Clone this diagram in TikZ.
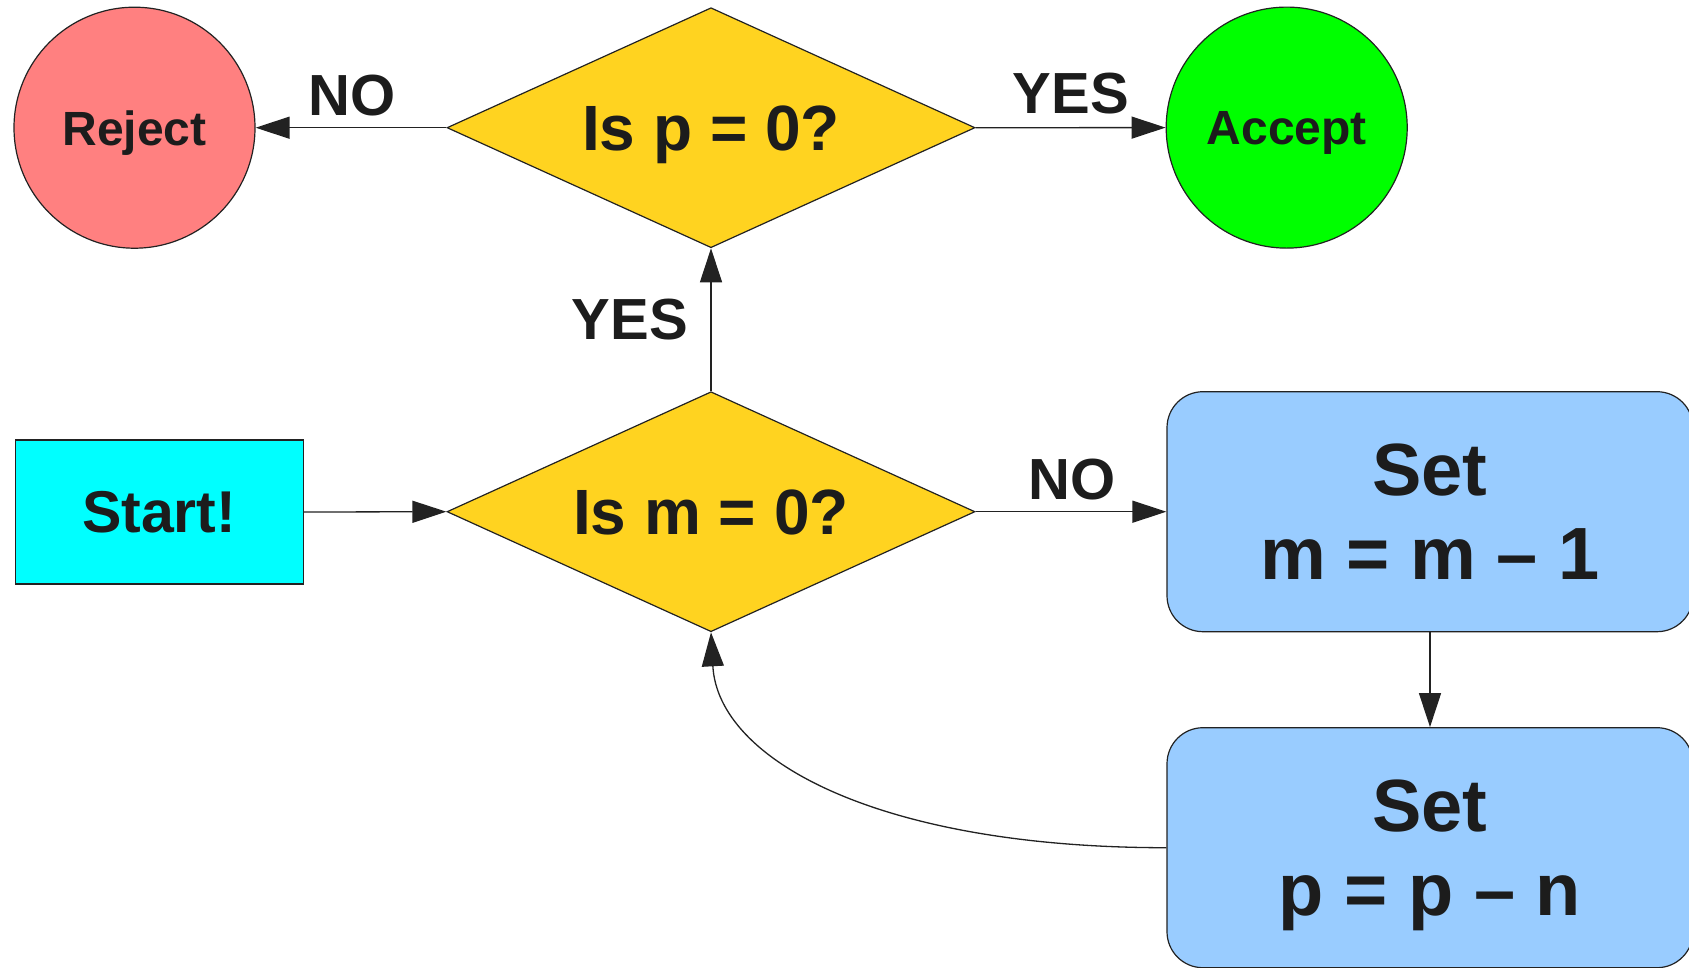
\documentclass[tikz,border=0pt]{standalone}
\usepackage{fontspec}
\setmainfont{Liberation Sans}
\usetikzlibrary{shapes.geometric,arrows.meta}
\definecolor{ink}{HTML}{1C1C1C}
\definecolor{edgeline}{HTML}{222222}
\definecolor{rejectfill}{HTML}{FF8080}
\definecolor{acceptfill}{HTML}{00FF00}
\definecolor{decisionfill}{HTML}{FFD320}
\definecolor{startfill}{HTML}{00FFFF}
\definecolor{procfill}{HTML}{99CCFF}
\begin{document}
\begin{tikzpicture}[x=1pt,y=-1pt,
  every node/.style={text=ink, font=\bfseries},
  endcircle/.style={circle, draw=edgeline, line width=1.2pt, minimum size=241pt,
    inner sep=0pt, text depth=0pt, font=\fontsize{48}{54}\selectfont\bfseries},
  decision/.style={diamond, draw=edgeline, line width=1.2pt, fill=decisionfill,
    minimum width=528pt, minimum height=240pt, aspect=2.2, inner sep=0pt,
    text depth=0pt, font=\fontsize{64}{72}\selectfont\bfseries},
  startbox/.style={rectangle, draw=edgeline, line width=1.2pt, fill=startfill,
    minimum width=288pt, minimum height=144pt, inner sep=0pt,
    font=\fontsize{59}{66}\selectfont\bfseries},
  procbox/.style={rectangle, rounded corners=36pt, draw=edgeline, line width=1.2pt,
    fill=procfill, minimum width=526pt, minimum height=240pt, inner sep=0pt,
    align=center, font=\fontsize{74}{84}\selectfont\bfseries},
  edgelabel/.style={text depth=0pt, inner sep=0pt, font=\fontsize{58}{64}\selectfont\bfseries},
  arr/.style={draw=edgeline, line width=1.3pt, -{Triangle[length=34pt,width=22pt]}}]
\useasboundingbox (0,0) rectangle (1689,967);
\clip (0,0) rectangle (1689,967);

% terminal states
\node[endcircle, fill=rejectfill] (reject) at (134.5,127.7) {Reject};
\node[endcircle, fill=acceptfill] (accept) at (1286.7,127.6) {Accept};

% decisions
\node[decision] (qp) at (711,127.7) {Is p = 0?};
\node[decision] (qm) at (711,511.7) {Is m = 0?};

% start
\node[startbox] (start) at (159.2,512) {Start!};

% processing steps (right edge runs past the page)
\node[procbox] (setm) at (1430,511.7) {Set\\m = m – 1};
\node[procbox] (setp) at (1430,847.7) {Set\\\raisebox{0pt}[\height][0pt]{p = p – n}};

% connectors
\draw[arr] (start.east) -- (qm.west);
\draw[arr] (qm.north) -- (qp.south);
\draw[arr] (qp.west) -- (reject.east);
\draw[arr] (qp.east) -- (accept.west);
\draw[arr] (qm.east) -- (setm.west);
\draw[arr] (setm.south) -- (setp.north);
\draw[arr] (setp.west) .. controls +(-287,0) and +(7,128) .. (qm.south);

% branch labels
\node[edgelabel] (lnotop) at (351.7,95) {NO};
\node[edgelabel] (lyestop) at (1070.8,93.3) {YES};
\node[edgelabel] (lyesmid) at (630,319) {YES};
\node[edgelabel] (lnomid) at (1071.8,479.3) {NO};
\end{tikzpicture}
\end{document}
